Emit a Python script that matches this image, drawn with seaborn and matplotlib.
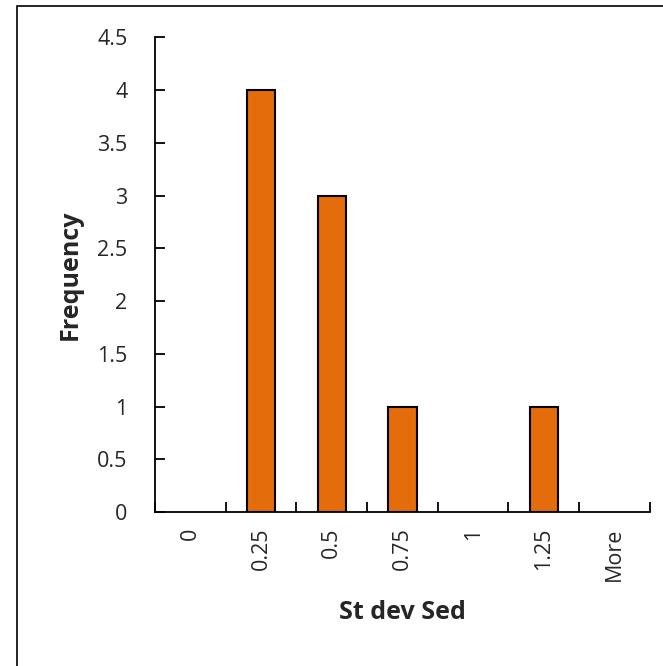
import matplotlib
matplotlib.use("Agg")
import matplotlib.pyplot as plt
import seaborn as sns
import pandas as pd
from matplotlib.patches import Rectangle

# ── Data ─────────────────────────────────────────────────────────────────────
bins = ["0", "0.25", "0.5", "0.75", "1", "1.25", "More"]
freq = [0, 4, 3, 1, 0, 1, 0]
df = pd.DataFrame({"bin": bins, "freq": freq})

sns.set_style("white")
plt.rcParams["font.family"] = ["Open Sans", "DejaVu Sans"]

fig = plt.figure(figsize=(6.63, 6.66), dpi=100)
ax = fig.add_axes([0.234, 0.231, 0.746, 0.713])

sns.barplot(data=df, x="bin", y="freq", order=bins, color="#E46C0A",
            edgecolor="black", linewidth=1.5, width=0.4, saturation=1, ax=ax)

# empty bins get no bar outline
for bar in ax.patches:
    if bar.get_height() == 0:
        bar.set_visible(False)

ax.set_xlim(-0.5, len(bins) - 0.5)
ax.set_ylim(0, 4.5)
ax.set_yticks([0, 0.5, 1, 1.5, 2, 2.5, 3, 3.5, 4, 4.5])
ax.set_yticklabels(["0", "0.5", "1", "1.5", "2", "2.5", "3", "3.5", "4", "4.5"])

# category boundary ticks, like Excel
ax.set_xticks([i - 0.5 for i in range(len(bins) + 1)], minor=True)
ax.tick_params(axis="x", which="major", length=0, labelsize=15.5, pad=11)
ax.tick_params(axis="x", which="minor", direction="in", length=7, width=1.3,
               color="black", bottom=True)
ax.tick_params(axis="y", which="major", direction="in", length=7, width=1.3,
               color="black", left=True, labelsize=15.5, pad=20)
for lab in ax.get_xticklabels():
    lab.set_rotation(90)

for side in ["top", "right"]:
    ax.spines[side].set_visible(False)
for side in ["left", "bottom"]:
    ax.spines[side].set_color("black")
    ax.spines[side].set_linewidth(1.3)

ax.set_xlabel("St dev Sed", fontsize=18, fontweight="bold", labelpad=14)
ax.set_ylabel("Frequency", fontsize=18, fontweight="bold", labelpad=10)

# chart area border
fig.patches.append(Rectangle((17 / 663, -0.1), 1.2, 1 - 6 / 666 + 0.1,
                             transform=fig.transFigure, fill=False,
                             edgecolor="black", linewidth=1.2))

fig.savefig("out.png", dpi=100)
